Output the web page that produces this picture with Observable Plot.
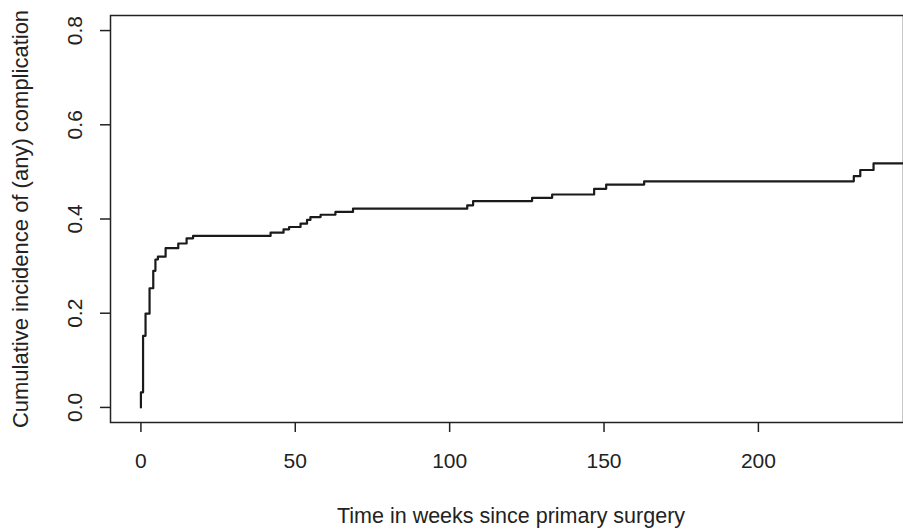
<!DOCTYPE html>
<html>
<head>
<meta charset="utf-8">
<script src="https://cdn.jsdelivr.net/npm/d3@7"></script>
<script src="https://cdn.jsdelivr.net/npm/@observablehq/plot@0.6"></script>
<style>
  html, body { margin: 0; padding: 0; background: #fff; }
  #chart { width: 903px; height: 529px; }
</style>
</head>
<body>
<div id="chart"></div>
<script>
// Cumulative incidence step function
const weeks = [0, 0, 0.7, 1.5, 2.8, 4.0, 4.7, 5.5, 8.0, 12.1, 14.8, 16.9, 42.0, 46.2, 48.0, 51.7, 53.8, 54.9, 58.2, 63.0, 68.7, 105.7, 107.6, 126.7, 133.2, 146.8, 150.7, 163.0, 230.9, 233.0, 237.3, 247];
const cumInc = [0, 0.032, 0.152, 0.199, 0.253, 0.290, 0.314, 0.320, 0.338, 0.348, 0.359, 0.364, 0.371, 0.378, 0.383, 0.390, 0.398, 0.404, 0.409, 0.415, 0.422, 0.429, 0.438, 0.445, 0.452, 0.464, 0.473, 0.480, 0.491, 0.504, 0.518, 0.518];
const xTicks = [0, 50, 100, 150, 200];
const yTicks = [0.0, 0.2, 0.4, 0.6, 0.8];
const xLabel = "Time in weeks since primary surgery";
const yLabel = "Cumulative incidence of (any) complication";

const data = weeks.map((w, i) => ({week: w, ci: cumInc[i]}));
const font = "'Liberation Sans', Arial, sans-serif";

const chart = Plot.plot({
  width: 903,
  height: 529,
  marginLeft: 110,
  marginRight: 0,
  marginTop: 15,
  marginBottom: 107,
  style: {fontFamily: font, fontSize: "21px", color: "#222", background: "#fff"},
  x: {domain: [-9.85, 247], ticks: xTicks},
  y: {domain: [-0.032, 0.832], ticks: yTicks},
  marks: [
    Plot.frame({stroke: "#222", strokeWidth: 1.5}),
    Plot.axisX({ticks: xTicks, tickSize: 10, tickPadding: 21, stroke: "#222", strokeWidth: 1.5,
      label: null, fill: "#222", fontSize: 21}),
    Plot.axisY({ticks: yTicks, tickSize: 10, tickPadding: 19, tickRotate: -90, stroke: "#222", strokeWidth: 1.5,
      tickFormat: d3.format(".1f"), label: null, fill: "#222", fontSize: 21}),
    Plot.text([xLabel], {text: d => d, frameAnchor: "bottom", dx: 4, dy: 100, lineAnchor: "bottom",
      textAnchor: "middle", fontFamily: font, fontSize: 21.5, fill: "#222"}),
    Plot.text([yLabel], {text: d => d, frameAnchor: "left", dx: -98, rotate: -90, lineAnchor: "top",
      textAnchor: "middle", fontFamily: font, fontSize: 22, fill: "#222"}),
    Plot.line(data, {x: "week", y: "ci", curve: "step-after", stroke: "#1a1a1a", strokeWidth: 2.2})
  ]
});
document.getElementById("chart").appendChild(chart);
</script>
</body>
</html>
